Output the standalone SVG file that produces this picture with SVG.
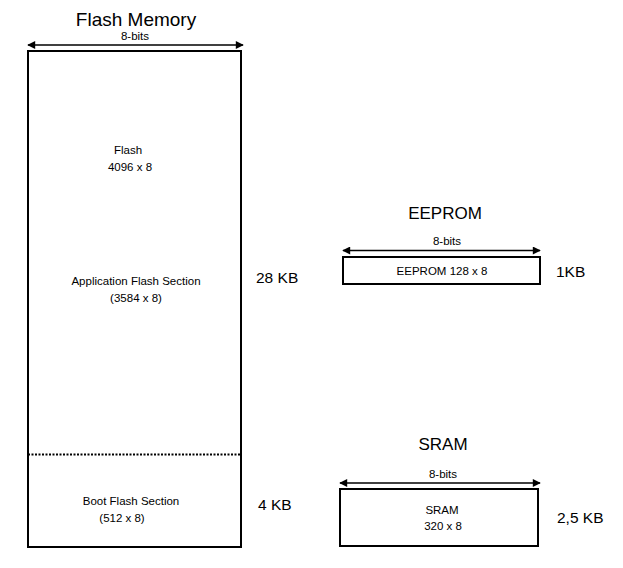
<svg xmlns="http://www.w3.org/2000/svg" width="623" height="568" viewBox="0 0 623 568">
<style>
text{font-family:"Liberation Sans",Arial,sans-serif;fill:#000}
.t{font-size:19px;text-anchor:middle}
.s{font-size:11.5px;text-anchor:middle}
.k{font-size:15.5px}
.box{fill:#fff;stroke:#000;stroke-width:2}
.arr{stroke:#000;stroke-width:1.5;fill:none;marker-start:url(#ah);marker-end:url(#ah)}
</style>
<defs>
<marker id="ah" viewBox="0 0 10 10" refX="9" refY="5" markerWidth="10" markerHeight="8" markerUnits="userSpaceOnUse" orient="auto-start-reverse">
<path d="M0,0 L10,5 L0,10 z" fill="#000"/>
</marker>
</defs>
<rect width="623" height="568" fill="#fff"/>
<g id="flash">
<text class="t" x="136" y="26">Flash Memory</text>
<rect class="box" x="28" y="51" width="213" height="496"/>
<line x1="28" y1="454.5" x2="240" y2="454.5" stroke="#000" stroke-width="2" stroke-dasharray="2,1.5"/>
<text class="s" x="128" y="154">Flash</text>
<text class="s" x="130" y="171">4096 x 8</text>
<text class="s" x="136" y="285">Application Flash Section</text>
<text class="s" x="136" y="302">(3584 x 8)</text>
<text class="s" x="131" y="505">Boot Flash Section</text>
<text class="s" x="122" y="522">(512 x 8)</text>
<text class="k" x="256" y="283">28 KB</text>
<text class="k" x="258" y="510">4 KB</text>
</g>
<g id="eeprom">
<text class="t" x="445" y="219" style="font-size:17px">EEPROM</text>
<rect class="box" x="343" y="257" width="197" height="27"/>
<text class="s" x="442" y="275">EEPROM 128 x 8</text>
<text class="k" x="556" y="277">1KB</text>
</g>
<g id="sram">
<text class="t" x="443" y="450" style="font-size:17px">SRAM</text>
<rect class="box" x="340" y="489" width="198" height="57"/>
<text class="s" x="442" y="514">SRAM</text>
<text class="s" x="443" y="530">320 x 8</text>
<text class="k" x="557" y="523">2,5 KB</text>
</g>
<g id="connectors">
<line class="arr" x1="28" y1="45" x2="243" y2="45"/>
<text class="s" x="135" y="40">8-bits</text>
<line class="arr" x1="343" y1="250.5" x2="540" y2="250.5"/>
<text class="s" x="447" y="245">8-bits</text>
<line class="arr" x1="340" y1="483" x2="540" y2="483"/>
<text class="s" x="443" y="478">8-bits</text>
</g>
</svg>
